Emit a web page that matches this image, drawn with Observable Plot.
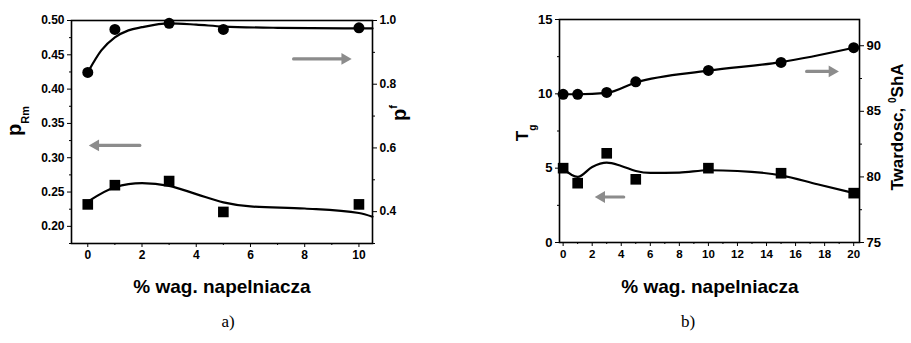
<!DOCTYPE html>
<html><head><meta charset="utf-8">
<script src="https://cdn.jsdelivr.net/npm/d3@7"></script>
<script src="https://cdn.jsdelivr.net/npm/@observablehq/plot@0.6"></script>
<style>
body{margin:0;background:#fff;}
#wrap{position:relative;width:911px;height:343px;overflow:hidden;}
#pa{position:absolute;left:0;top:0}
#pb{position:absolute;left:455px;top:0}
.cap{position:absolute;top:312px;font-family:"Liberation Serif","Times New Roman",serif;font-size:17px;transform:translateX(-50%);color:#000}
</style></head><body>
<div id="wrap"><div id="pa"></div><div id="pb"></div>
<div class="cap" style="left:228px">a)</div><div class="cap" style="left:688px">b)</div></div>
<script>
// ---------- Panel a data ----------
const aX = [0, 1, 3, 5, 10];
const aPRm = [0.232, 0.260, 0.266, 0.221, 0.232];          // squares, left axis
const aPf = [0.837, 0.972, 0.991, 0.972, 0.977];           // circles, right axis
const aFitPRmX = [0, 1, 2, 3, 4, 5, 6, 8, 10, 10.5];
const aFitPRm = [0.236, 0.257, 0.263, 0.259, 0.247, 0.235, 0.229, 0.226, 0.2195, 0.214];
const aFitPfX = [0, 0.5, 1, 1.5, 2, 3, 4, 5, 7, 10.5];
const aFitPf = [0.837, 0.906, 0.947, 0.969, 0.979, 0.991, 0.987, 0.981, 0.977, 0.975];
const aXDomain = [-0.6, 10.5];
const aLeftDomain = [0.175, 0.5];
const aRightDomain = [0.3, 1.0];
const aXMajor = [0, 2, 4, 6, 8, 10];
const aXMinor = [1, 3, 5, 7, 9];
const aYMajor = [0.20, 0.25, 0.30, 0.35, 0.40, 0.45, 0.50];
const aYMinor = [0.175, 0.225, 0.275, 0.325, 0.375, 0.425, 0.475];
const aRMajor = [0.4, 0.6, 0.8, 1.0];
const aRMinor = [0.3, 0.5, 0.7, 0.9];
// arrows: tail x, tip x, y (left-axis units)
const aArrowTail = [1.92, 7.59];
const aArrowTip = [0.05, 9.72];
const aArrowY = [0.318, 0.444];

// ---------- Panel b data ----------
const bX = [0, 1, 3, 5, 10, 15, 20];
const bTg = [5.0, 3.99, 6.0, 4.25, 5.0, 4.66, 3.32];           // squares, left axis
const bHard = [86.3, 86.3, 86.44, 87.25, 88.12, 88.73, 89.85];  // circles, right axis
const bFitTgX = [0, 1, 2, 3, 4, 5, 6, 8, 10, 12, 15, 17.5, 20];
const bFitTg = [4.97, 4.41, 5.08, 5.37, 5.15, 4.81, 4.68, 4.70, 4.86, 4.81, 4.52, 3.92, 3.33];
const bFitHardX = [0, 1, 3, 5, 10, 15, 20];
const bFitHard = [86.3, 86.3, 86.4, 87.2, 88.1, 88.75, 89.85];
const bXDomain = [-0.25, 20.4];
const bLeftDomain = [0, 15];
const bRightDomain = [75, 92];
const bXMajor = [0, 2, 4, 6, 8, 10, 12, 14, 16, 18, 20];
const bXMinor = [1, 3, 5, 7, 9, 11, 13, 15, 17, 19];
const bYMajor = [0, 5, 10, 15];
const bYMinor = [2.5, 7.5, 12.5];
const bRMajor = [75, 80, 85, 90];
const bRMinor = [77.5, 82.5, 87.5];
const bArrowTail = [4.17, 16.76];
const bArrowTip = [2.2, 18.96];
const bArrowY = [3.06, 11.51];

const FONT = "Liberation Sans, Arial, Helvetica, sans-serif";
const GRAY = "#8c8c8c";

function mapper(from, to) {
  return v => to[0] + (v - from[0]) * (to[1] - to[0]) / (from[1] - from[0]);
}

function arrowMarks(tails, tips, ys) {
  const arr = tails.map((t, i) => ({x1: t, x2: tips[i], y: ys[i], dir: tips[i] > t ? 1 : -1}));
  const right = arr.filter(d => d.dir > 0), left = arr.filter(d => d.dir < 0);
  return [
    Plot.arrow(arr, {x1: "x1", x2: "x2", y1: "y", y2: "y", stroke: GRAY, strokeWidth: 3.2, headLength: 0, insetEnd: 7}),
    Plot.dot(right, {x: "x2", y: "y", symbol: "triangle", r: 4.4, fill: GRAY, rotate: 90, dx: -6.5}),
    Plot.dot(left, {x: "x2", y: "y", symbol: "triangle", r: 4.4, fill: GRAY, rotate: -90, dx: 6.5})
  ];
}

function makePanel(o) {
  const toLeft = mapper(o.rightDomain, o.leftDomain);
  const toRight = mapper(o.leftDomain, o.rightDomain);
  const sq = o.x.map((x, i) => ({x, y: o.leftVals[i]}));
  const ci = o.x.map((x, i) => ({x, y: toLeft(o.rightVals[i])}));
  const fitL = o.fitLX.map((x, i) => ({x, y: o.fitL[i]}));
  const fitR = o.fitRX.map((x, i) => ({x, y: toLeft(o.fitR[i])}));
  return Plot.plot({
    width: o.width, height: 300,
    marginLeft: o.ml, marginRight: o.mr, marginTop: o.mt, marginBottom: o.mb,
    style: {fontFamily: FONT, fontWeight: "bold", fontSize: "12px", color: "#000", background: "#fff", overflow: "visible"},
    x: {domain: o.xDomain},
    y: {domain: o.leftDomain},
    marks: [
      Plot.axisX(o.xMajor, {tickSize: 4, tickPadding: 3, label: null, fontSize: o.xFont}),
      Plot.axisX(o.xMinor, {tickSize: 2, tickFormat: () => "", label: null}),
      Plot.axisY(o.yMajor, {anchor: "left", tickSize: 4, tickPadding: 3, tickFormat: o.leftFmt, label: null, fontSize: o.yFont}),
      Plot.axisY(o.yMinor, {anchor: "left", tickSize: 2, tickFormat: () => "", label: null}),
      Plot.axisY(o.rMajor.map(toLeft), {anchor: "right", tickSize: 4, tickPadding: 3, tickFormat: d => o.rightFmt(toRight(d)), label: null, fontSize: o.yFont}),
      Plot.axisY(o.rMinor.map(toLeft), {anchor: "right", tickSize: 2, tickFormat: () => "", label: null}),
      Plot.frame({stroke: "#000", strokeWidth: 1.6}),
      Plot.line(fitL, {x: "x", y: "y", curve: "monotone-x", stroke: "#000", strokeWidth: 2.2}),
      Plot.line(fitR, {x: "x", y: "y", curve: "monotone-x", stroke: "#000", strokeWidth: 2.2}),
      Plot.dot(ci, {x: "x", y: "y", symbol: "circle", r: 5.5, fill: "#000", stroke: "none"}),
      Plot.dot(sq, {x: "x", y: "y", symbol: "square", r: 6, fill: "#000", stroke: "none"}),
      ...arrowMarks(o.arrowTail, o.arrowTip, o.arrowY)
    ]
  });
}

const plotA = makePanel({
  width: 455, ml: 71, mr: 83, mt: 20, mb: 57,
  x: aX, leftVals: aPRm, rightVals: aPf,
  fitLX: aFitPRmX, fitL: aFitPRm, fitRX: aFitPfX, fitR: aFitPf,
  xDomain: aXDomain, leftDomain: aLeftDomain, rightDomain: aRightDomain,
  xMajor: aXMajor, xMinor: aXMinor, yMajor: aYMajor, yMinor: aYMinor, rMajor: aRMajor, rMinor: aRMinor,
  leftFmt: d3.format(".2f"), rightFmt: v => d3.format(".1f")(v),
  xFont: 12, yFont: 12,
  arrowTail: aArrowTail, arrowTip: aArrowTip, arrowY: aArrowY
});
const plotB = makePanel({
  width: 456, ml: 104, mr: 52, mt: 19, mb: 58,
  x: bX, leftVals: bTg, rightVals: bHard,
  fitLX: bFitTgX, fitL: bFitTg, fitRX: bFitHardX, fitR: bFitHard,
  xDomain: bXDomain, leftDomain: bLeftDomain, rightDomain: bRightDomain,
  xMajor: bXMajor, xMinor: bXMinor, yMajor: bYMajor, yMinor: bYMinor, rMajor: bRMajor, rMinor: bRMinor,
  leftFmt: d3.format("d"), rightFmt: v => String(Math.round(v)),
  xFont: 11.5, yFont: 13,
  arrowTail: bArrowTail, arrowTip: bArrowTip, arrowY: bArrowY
});
document.getElementById("pa").appendChild(plotA);
document.getElementById("pb").appendChild(plotB);

function title(svg, tx, ty, rot, parts) {
  const t = d3.select(svg).append("text")
    .attr("transform", `translate(${tx},${ty})` + (rot ? ` rotate(${rot})` : ""))
    .attr("text-anchor", "middle")
    .attr("font-family", FONT).attr("font-weight", "bold").attr("fill", "#000");
  for (const p of parts) {
    t.append("tspan").attr("font-size", p.size).attr("dy", p.dy || 0).text(p.text);
  }
}
const xTitle = "% wag. napelniacza";
title(plotA, 222, 293, 0, [{text: xTitle, size: 19}]);
title(plotB, 255, 293, 0, [{text: xTitle, size: 19}]);
title(plotA, 21, 121, -90, [{text: "p", size: 20}, {text: "Rm", size: 11, dy: 8}]);
title(plotA, 406, 113, -90, [{text: "p", size: 20}, {text: "f", size: 11, dy: -9}]);
title(plotB, 73, 133, -90, [{text: "T", size: 17}, {text: "g", size: 10, dy: 8}]);
title(plotB, 448, 127, -90, [{text: "Twardosc, ", size: 17}, {text: "0", size: 10, dy: -7}, {text: "ShA", size: 17, dy: 7}]);
</script>
</body></html>
